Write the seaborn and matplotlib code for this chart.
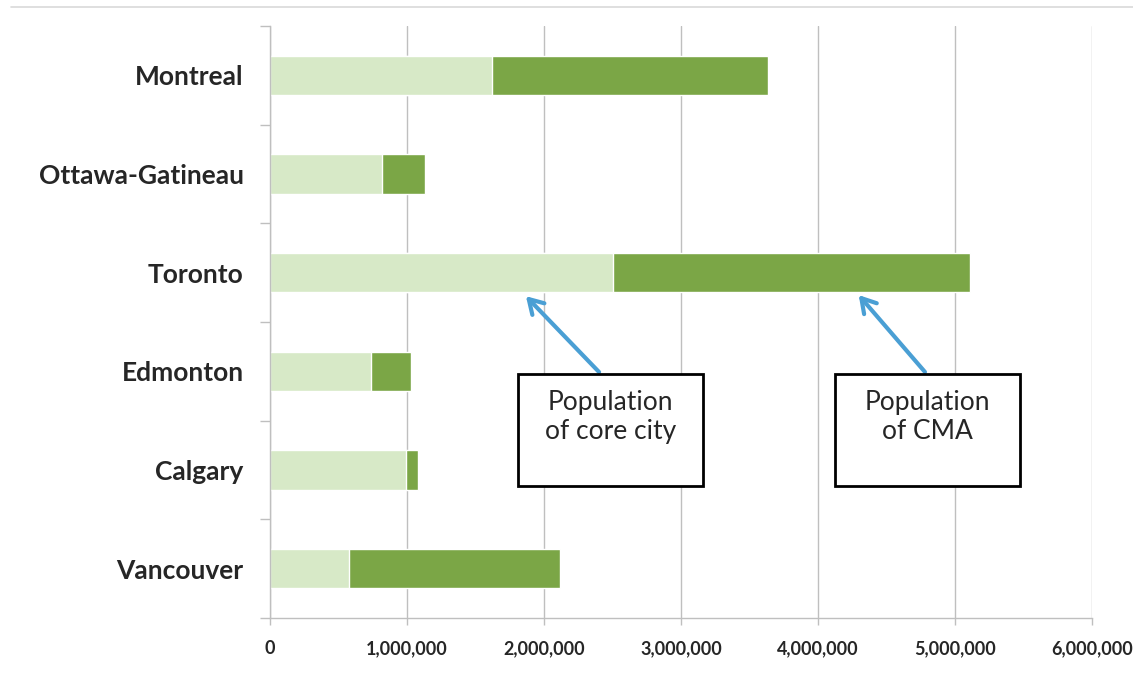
import seaborn as sns
import pandas as pd
import matplotlib.pyplot as plt
from matplotlib.lines import Line2D
from matplotlib.patches import Rectangle

# values
cities = ['Montreal', 'Ottawa-Gatineau', 'Toronto', 'Edmonton', 'Calgary', 'Vancouver']
core_city = [1620000, 820000, 2500000, 740000, 990000, 580000]
cma = [3635000, 1130000, 5110000, 1030000, 1080000, 2120000]
x_ticks = [0, 1000000, 2000000, 3000000, 4000000, 5000000, 6000000]

df = pd.DataFrame({'City': cities, 'Core': core_city, 'CMA': cma})

sns.set_style('white')
plt.rcParams['font.family'] = ['Lato', 'DejaVu Sans']

fig = plt.figure(figsize=(11.33, 6.75), dpi=100)
ax = fig.add_axes([270/1133, 1-618/675, 822/1133, 592/675])

# CMA bar first, core city drawn over it so the dark part is the rest
sns.barplot(data=df, y='City', x='CMA', orient='h', color='#7BA646',
            width=0.4, saturation=1, ax=ax)
sns.barplot(data=df, y='City', x='Core', orient='h', color='#D7E9C7',
            width=0.4, saturation=1, ax=ax)

ax.set_xlim(0, 6000000)
ax.set_ylim(5.5, -0.5)
ax.set_xticks(x_ticks, labels=[f'{v:,}' for v in x_ticks], fontweight='bold', fontsize=13)
ax.set_yticks(range(len(cities)), labels=cities, fontweight='bold', fontsize=19)
ax.set_xlabel('')
ax.set_ylabel('')

ax.grid(axis='x', color='#BFBFBF', linewidth=1)
ax.set_axisbelow(True)
for s in ['top', 'right']:
    ax.spines[s].set_visible(False)
for s in ['left', 'bottom']:
    ax.spines[s].set_color('#BFBFBF')
    ax.spines[s].set_linewidth(1)

ax.tick_params(axis='x', bottom=True, length=5, width=1, color='#BFBFBF', pad=11)
ax.tick_params(axis='y', which='major', length=0, pad=19)
ax.set_yticks([i - 0.5 for i in range(len(cities) + 1)], minor=True)
ax.tick_params(axis='y', which='minor', left=True, length=7, color='#BFBFBF', width=1)

# callout boxes with arrows
arrow_kw = dict(arrowstyle='->,head_length=0.5,head_width=0.3', color='#4A9FD4', lw=3,
                mutation_scale=20)
ax.annotate('', xy=(0.309, 0.547), xytext=(0.4027, 0.412),
            xycoords='axes fraction', textcoords='axes fraction', arrowprops=arrow_kw)
ax.annotate('', xy=(0.714, 0.549), xytext=(0.799, 0.412),
            xycoords='axes fraction', textcoords='axes fraction', arrowprops=arrow_kw)

for x0, txt in [(0.3017, 'Population\nof core city'), (0.687, 'Population\nof CMA')]:
    ax.add_patch(Rectangle((x0, 0.223), 0.225, 0.189, transform=ax.transAxes,
                           facecolor='white', edgecolor='black', lw=2, zorder=5))
    ax.text(x0 + 0.1125, 0.34, txt, transform=ax.transAxes, ha='center', va='center',
            fontsize=19, linespacing=1.2, zorder=6)

fig.add_artist(Line2D([11/1133, 1], [1-7/675, 1-7/675], color='#D9D9D9', lw=1.2,
                      transform=fig.transFigure))

fig.savefig('out.png', dpi=100)
